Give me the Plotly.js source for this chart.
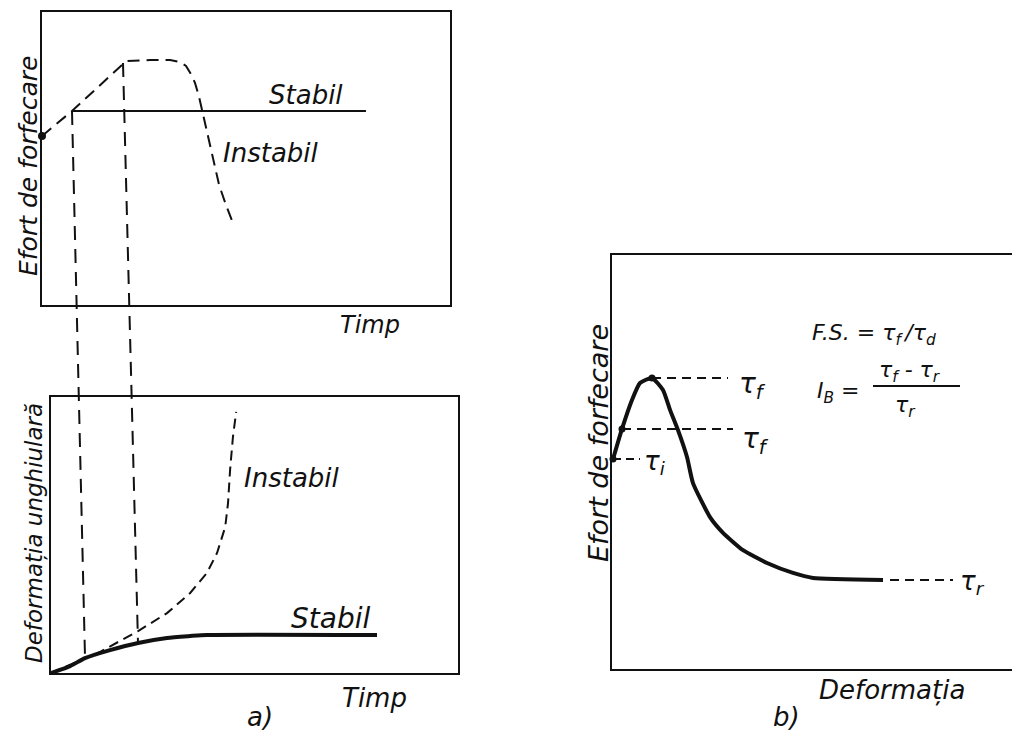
<!DOCTYPE html>
<html>
<head>
<meta charset="utf-8">
<script src="https://cdn.plot.ly/plotly-3.0.1.min.js"></script>
<style>
  html, body { margin: 0; padding: 0; background: #fff; }
  #chart { width: 1012px; height: 731px; }
</style>
</head>
<body>
<div id="chart"></div>
<script>
// ---- (a) upper: shear stress against time ----
const stressInstabilX = [0, 7.35, 19.6, 20.8, 26.5, 31.4, 33.8, 35.3, 36.5, 37.5, 38.5, 39.2, 39.95, 40.7, 41.9, 43.4, 45.1, 46.8];
const stressInstabilY = [57.7, 66.2, 81.9, 83.3, 83.6, 83.6, 82.9, 81.6, 78.8, 75.8, 71.0, 66.6, 62.5, 57.7, 49.5, 41.0, 34.1, 28.0];
const stressStabilX = [7.35, 79.4];
const stressStabilY = [66.2, 66.2];
const stressStartX = [0];
const stressStartY = [57.7];

// ---- (a) lower: angular strain against time ----
const strainStabilX = [0, 4.7, 8.35, 14.5, 21.4, 28.5, 34.2, 38.3, 80.1];
const strainStabilY = [0, 2.5, 5.4, 8.3, 10.9, 12.7, 13.4, 13.8, 13.8];
const strainInstabilX = [0, 8.35, 12.0, 21.4, 28.5, 34.2, 38.3, 40.8, 42.8, 43.5, 44.0, 44.7, 45.5];
const strainInstabilY = [0, 5.4, 7.6, 15.2, 21.7, 29.0, 36.2, 43.5, 52.9, 61.6, 73.6, 85.5, 94.6];

// guide lines tying the two time axes together (sheet units)
const guideEarlyX = [72, 85];
const guideEarlyY = [111, 657];
const guideLateX = [123, 138];
const guideLateY = [63, 643];

// ---- (b): shear stress against strain ----
const curveX = [0.25, 2.5, 5.0, 7.0, 10.0, 12.75, 14.5, 16.5, 18.75, 20.25, 24.5, 27.75, 32.75, 38.75, 45.25, 50.25, 67.75];
const curveY = [50.7, 58.0, 65.0, 69.1, 70.3, 67.4, 62.6, 57.7, 51.2, 44.9, 36.7, 32.9, 28.7, 25.6, 23.2, 22.0, 21.5];
const curvePointsX = [0.25, 2.5, 10.0];
const curvePointsY = [50.7, 58.0, 70.3];
const tauPeakX = [10, 29];
const tauPeakY = [70.3, 70.3];
const tauFX = [2.5, 30.25];
const tauFY = [58.0, 58.0];
const tauIX = [0.25, 7];
const tauIY = [50.7, 50.7];
const tauRX = [69.5, 85.25];
const tauRY = [21.5, 21.5];

const W = 1012, H = 731;
const px = v => v / W;
const py = v => 1 - v / H;
const INK = '#111';
const FONT = 'DejaVu Sans';

function frame(x0, x1, y0, y1) {
  return { domain: [px(x0), px(x1)], ydomain: [py(y1), py(y0)] };
}
function axis(domain, range, mirror, anchor) {
  return {
    domain: domain, range: range, anchor: anchor, showline: true, mirror: mirror,
    linecolor: INK, linewidth: 2, showgrid: false, zeroline: false,
    ticks: '', showticklabels: false, fixedrange: true
  };
}

const fTop = frame(42, 450, 12, 305);
const fLow = frame(51, 458, 397, 673);
const fRight = frame(612, 1012, 255, 669);

const traces = [
  // upper (a)
  { x: stressInstabilX, y: stressInstabilY, xaxis: 'x', yaxis: 'y', mode: 'lines',
    line: { color: INK, width: 2, dash: '12px,7px' } },
  { x: stressStabilX, y: stressStabilY, xaxis: 'x', yaxis: 'y', mode: 'lines',
    line: { color: INK, width: 2 } },
  { x: stressStartX, y: stressStartY, xaxis: 'x', yaxis: 'y', mode: 'markers', cliponaxis: false,
    marker: { color: INK, size: 8 } },
  // lower (a)
  { x: strainInstabilX, y: strainInstabilY, xaxis: 'x2', yaxis: 'y2', mode: 'lines',
    line: { color: INK, width: 2, dash: '10px,6px' } },
  { x: strainStabilX, y: strainStabilY, xaxis: 'x2', yaxis: 'y2', mode: 'lines',
    line: { color: INK, width: 4, shape: 'spline', smoothing: 0.6 } },
  // (b)
  { x: curveX, y: curveY, xaxis: 'x3', yaxis: 'y3', mode: 'lines',
    line: { color: INK, width: 4, shape: 'spline', smoothing: 0.5 } },
  { x: tauPeakX, y: tauPeakY, xaxis: 'x3', yaxis: 'y3', mode: 'lines', line: { color: INK, width: 2, dash: '9px,6px' } },
  { x: tauFX, y: tauFY, xaxis: 'x3', yaxis: 'y3', mode: 'lines', line: { color: INK, width: 2, dash: '9px,6px' } },
  { x: tauIX, y: tauIY, xaxis: 'x3', yaxis: 'y3', mode: 'lines', line: { color: INK, width: 2, dash: '8px,5px' } },
  { x: tauRX, y: tauRY, xaxis: 'x3', yaxis: 'y3', mode: 'lines', line: { color: INK, width: 2, dash: '9px,6px' } },
  { x: curvePointsX, y: curvePointsY, xaxis: 'x3', yaxis: 'y3', mode: 'markers', cliponaxis: false,
    marker: { color: INK, size: 7 } },
  // guides across both (a) panels
  { x: guideEarlyX, y: guideEarlyY, xaxis: 'x4', yaxis: 'y4', mode: 'lines',
    line: { color: INK, width: 2, dash: '14px,9px' } },
  { x: guideLateX, y: guideLateY, xaxis: 'x4', yaxis: 'y4', mode: 'lines',
    line: { color: INK, width: 2, dash: '14px,9px' } }
];

function note(text, x, y, size, extra) {
  return Object.assign({
    text: text, x: x, y: y, xref: 'paper', yref: 'paper', showarrow: false,
    xanchor: 'center', yanchor: 'middle',
    font: { family: FONT, size: size, color: INK, style: 'italic' }
  }, extra || {});
}
function tag(text, x, y, xr, yr, size, extra) {
  return Object.assign({
    text: text, x: x, y: y, xref: xr, yref: yr, showarrow: false,
    xanchor: 'center', yanchor: 'middle',
    font: { family: FONT, size: size, color: INK, style: 'italic' }
  }, extra || {});
}

const annotations = [
  note('Efort de forfecare', px(28), py(166), 25, { textangle: -90 }),
  note('Deformația unghiulară', px(34), py(533), 23, { textangle: -90 }),
  note('Efort de forfecare', px(598), py(443), 27, { textangle: -90 }),
  note('Timp', px(370), py(325), 24),
  note('Timp', px(374), py(698), 26),
  note('a)', px(260), py(717), 26),
  note('Deformația', px(892), py(690), 26),
  note('b)', px(786), py(717), 26),
  tag('Stabil', 64.7, 71.7, 'x', 'y', 26),
  tag('Instabil', 56.1, 51.9, 'x', 'y', 26),
  tag('Instabil', 59.2, 70.7, 'x2', 'y2', 26),
  tag('Stabil', 68.6, 19.9, 'x2', 'y2', 28),
  tag('τ<sub>f</sub>', 31.25, 68.6, 'x3', 'y3', 28, { xanchor: 'left' }),
  tag('τ<sub>f</sub>', 32, 55.3, 'x3', 'y3', 28, { xanchor: 'left' }),
  tag('τ<sub>i</sub>', 7.5, 50.0, 'x3', 'y3', 26, { xanchor: 'left' }),
  tag('τ<sub>r</sub>', 86.5, 20.8, 'x3', 'y3', 26, { xanchor: 'left' }),
  note('F.S. = τ<sub>f</sub>\u2009/τ<sub>d</sub>', px(810), py(334), 22, { xanchor: 'left' }),
  note('I<sub>B</sub> =', px(815), py(392), 22, { xanchor: 'left' }),
  note('τ<sub>f</sub> - τ<sub>r</sub>', px(910), py(371), 22),
  note('τ<sub>r</sub>', px(905), py(407), 22)
];

const layout = {
  width: W, height: H,
  margin: { l: 0, r: 0, t: 0, b: 0 },
  paper_bgcolor: '#fff', plot_bgcolor: 'rgba(0,0,0,0)',
  showlegend: false,
  xaxis: axis(fTop.domain, [0, 100], true, 'y'),
  yaxis: axis(fTop.ydomain, [0, 100], true, 'x'),
  xaxis2: axis(fLow.domain, [0, 100], true, 'y2'),
  yaxis2: axis(fLow.ydomain, [0, 100], true, 'x2'),
  xaxis3: axis(fRight.domain, [0, 100], true, 'y3'),
  yaxis3: axis(fRight.ydomain, [0, 100], false, 'x3'),
  xaxis4: { domain: [0, 1], range: [0, W], anchor: 'y4', visible: false, fixedrange: true },
  yaxis4: { domain: [0, 1], range: [H, 0], anchor: 'x4', visible: false, fixedrange: true },
  annotations: annotations,
  shapes: [
    // fraction bar of the brittleness index
    { type: 'line', xref: 'paper', yref: 'paper', x0: px(873), x1: px(960), y0: py(386), y1: py(386),
      line: { color: INK, width: 2 } }
  ]
};

Plotly.newPlot('chart', traces, layout, { staticPlot: true, displayModeBar: false });
</script>
</body>
</html>
